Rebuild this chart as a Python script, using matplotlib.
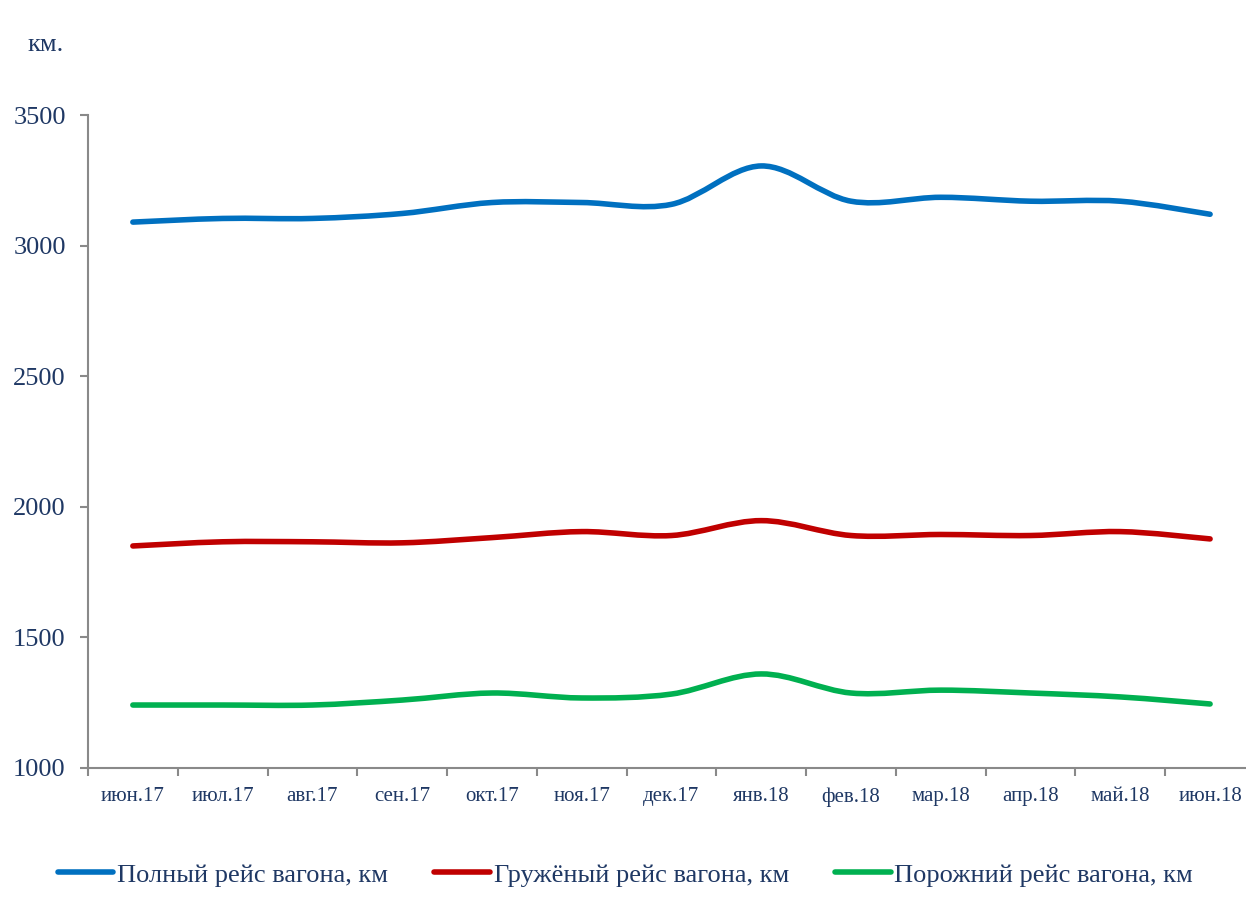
import matplotlib.pyplot as plt
from matplotlib.path import Path
from matplotlib.patches import PathPatch
from matplotlib.lines import Line2D

months = ['июн.17', 'июл.17', 'авг.17', 'сен.17', 'окт.17', 'ноя.17', 'дек.17',
          'янв.18', 'фев.18', 'мар.18', 'апр.18', 'май.18', 'июн.18']
full_trip = [3090, 3104, 3104, 3123, 3165, 3165, 3158, 3305, 3170, 3185, 3170, 3170, 3120]
loaded_trip = [1850, 1866, 1866, 1862, 1882, 1905, 1890, 1947, 1890, 1894, 1890, 1905, 1877]
empty_trip = [1241, 1241, 1241, 1260, 1287, 1268, 1283, 1360, 1287, 1298, 1287, 1272, 1245]

series = [
    ('Полный рейс вагона, км', full_trip, '#0070C0'),
    ('Гружёный рейс вагона, км', loaded_trip, '#C00000'),
    ('Порожний рейс вагона, км', empty_trip, '#00B050'),
]

text_color = '#1F3864'
axis_color = '#898989'
plt.rcParams['font.family'] = ['Liberation Serif', 'DejaVu Serif']


def smooth_path(xs, ys):
    # Bezier path like Excel's "smoothed line"
    verts = [(xs[0], ys[0])]
    codes = [Path.MOVETO]
    n = len(xs)
    for i in range(n - 1):
        x0, y0 = xs[max(i - 1, 0)], ys[max(i - 1, 0)]
        x1, y1 = xs[i], ys[i]
        x2, y2 = xs[i + 1], ys[i + 1]
        x3, y3 = xs[min(i + 2, n - 1)], ys[min(i + 2, n - 1)]
        c1 = (x1 + (x2 - x0) / 6, y1 + (y2 - y0) / 6)
        c2 = (x2 - (x3 - x1) / 6, y2 - (y3 - y1) / 6)
        verts += [c1, c2, (x2, y2)]
        codes += [Path.CURVE4] * 3
    return Path(verts, codes)


fig = plt.figure(figsize=(12.46, 9), dpi=100)
# axis runs a bit past the right edge of the picture, as in the source
ax = fig.add_axes([0.0706, 0.1467, 0.9366, 0.7255])

x = list(range(len(months)))
handles = []
for name, vals, color in series:
    patch = PathPatch(smooth_path(x, vals), facecolor='none', edgecolor=color,
                      linewidth=4, capstyle='round', joinstyle='round')
    ax.add_patch(patch)
    handles.append(Line2D([], [], color=color, linewidth=4,
                          solid_capstyle='round', label=name))

ax.set_xlim(-0.5, len(months) - 0.5)
ax.set_ylim(1000, 3500)
ax.set_yticks(range(1000, 3501, 500))
ax.set_xticks(x)
ax.set_xticklabels(months)
ax.set_xticks([i - 0.5 for i in range(len(months) + 1)], minor=True)

for side in ['top', 'right']:
    ax.spines[side].set_visible(False)
for side in ['left', 'bottom']:
    ax.spines[side].set_color(axis_color)
    ax.spines[side].set_linewidth(1.5)

ax.tick_params(axis='y', colors=axis_color, labelcolor=text_color,
               labelsize=19, length=6, width=1.5, pad=10)
ax.tick_params(axis='x', which='major', length=0, labelcolor=text_color,
               labelsize=15, pad=14)
ax.tick_params(axis='x', which='minor', colors=axis_color, length=6, width=1.5)

fig.text(0.022, 0.950, 'км.', fontsize=19, color=text_color, va='center')

leg = fig.legend(handles=handles, loc='center', bbox_to_anchor=(0.502, 0.028),
                 ncol=3, frameon=False, fontsize=19, handlelength=2.1,
                 handletextpad=0.15, columnspacing=1.75)
for t in leg.get_texts():
    t.set_color(text_color)

plt.savefig('out.png', dpi=100)
plt.close()
